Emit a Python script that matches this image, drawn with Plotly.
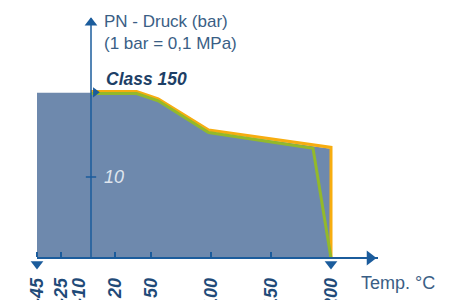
import plotly.graph_objects as go

# --- data ---
temp_ticks = [-45, -25, -10, 20, 50, 100, 150, 200]
tick_labels = ["-45", "-25", "-10", "20", "50", "100", "150", "200"]
tick_marks = [-45, -25, 20, 50, 100, 150]

# area (fill) outline
area_t = [-45, -45, 0, 38, 56, 98, 200, 200]
area_p = [0, 20.4, 20.4, 20.4, 19.5, 15.6, 13.5, 0]

# orange curve
orange_t = [0, 38, 56, 98, 200, 200]
orange_p = [20.55, 20.55, 19.65, 15.8, 13.65, 0]

# green curve (Class 150)
green_t = [0, 38, 56, 98, 185, 200]
green_p = [20.3, 20.3, 19.4, 15.5, 13.55, 0]

y_ticks = [10]

AXIS = "#1b5c9c"
FILL = "#6e89ad"
TXT = "#3a5e85"
NAVY = "#1d3f66"
FONT = "Liberation Sans, Arial, sans-serif"

PH = 254.0  # plot height in px (paper y fraction helper)
PW = 341.0


def py(pix):
    return (271 - pix) / PH


def px(pix):
    return (pix - 37) / PW


fig = go.Figure()
fig.add_trace(go.Scatter(x=area_t, y=area_p, fill="toself", fillcolor=FILL,
                         mode="none", hoverinfo="skip", showlegend=False))
fig.add_trace(go.Scatter(x=orange_t, y=orange_p, mode="lines",
                         line=dict(color="#f7ad10", width=3), showlegend=False,
                         cliponaxis=False))
fig.add_trace(go.Scatter(x=green_t, y=green_p, mode="lines",
                         line=dict(color="#93b92a", width=3), showlegend=False,
                         cliponaxis=False))

# y axis line (at 0 °C) and its tick
fig.add_shape(type="line", x0=0, x1=0, y0=0, y1=29.6, xref="x", yref="y",
              line=dict(color=AXIS, width=1.5))
fig.add_shape(type="line", x0=-4.3, x1=4.3, y0=10, y1=10, xref="x", yref="y",
              line=dict(color=AXIS, width=1.5))

# arrow heads
fig.add_trace(go.Scatter(x=[0], y=[29.05], mode="markers",
                         marker=dict(symbol="triangle-up", size=11, color=AXIS),
                         showlegend=False, cliponaxis=False, hoverinfo="skip"))
fig.add_trace(go.Scatter(x=[232.5], y=[0], mode="markers",
                         marker=dict(symbol="triangle-right", size=13, color=AXIS),
                         showlegend=False, cliponaxis=False, hoverinfo="skip"))
fig.add_trace(go.Scatter(x=[-45, 200], y=[-0.75, -0.75], mode="markers",
                         marker=dict(symbol="triangle-down", size=11, color=AXIS),
                         showlegend=False, cliponaxis=False, hoverinfo="skip"))
fig.add_trace(go.Scatter(x=[3.6], y=[20.45], mode="markers",
                         marker=dict(symbol="triangle-right", size=9, color=AXIS),
                         showlegend=False, cliponaxis=False, hoverinfo="skip"))

fig.update_layout(
    width=455, height=300,
    margin=dict(l=37, r=77, t=17, b=29),
    paper_bgcolor="white", plot_bgcolor="white",
    showlegend=False,
    xaxis=dict(range=[-45, 239.17], tickvals=temp_ticks, ticktext=tick_labels,
               anchor="free", position=py(258),
               tickangle=-90, ticks="", showgrid=False, zeroline=False,
               showline=True, linecolor=AXIS, linewidth=1.5,
               ticklabelstandoff=12, automargin=False,
               ticklabeloverflow="allow",
               tickfont=dict(family=FONT, size=18, color="#1f4a78", weight="bold",
                             style="italic"),
               minor=dict(tickvals=tick_marks, ticks="inside", ticklen=5,
                          tickcolor=AXIS, tickwidth=1.5)),
    yaxis=dict(range=[-13 / 8.1, 29.75], tickvals=y_ticks, ticktext=["10"],
               anchor="free", position=px(91), side="right",
               ticks="", showgrid=False,
               zeroline=False, showline=False, automargin=False,
               ticklabelstandoff=12,
               tickfont=dict(family=FONT, size=18, color="#dfe5ee", style="italic")),
    annotations=[
        dict(text="PN - Druck (bar)<br>(1 bar = 0,1 MPa)", xref="paper", yref="paper",
             x=px(102), y=py(10), xanchor="left", yanchor="top",
             align="left", showarrow=False,
             font=dict(family=FONT, size=17, color=TXT)),
        dict(text="<b><i>Class 150</i></b>", xref="paper", yref="paper",
             x=px(104), y=py(79), xanchor="left", yanchor="middle",
             showarrow=False, font=dict(family=FONT, size=17.5, color=NAVY)),
        dict(text="Temp. °C", xref="paper", yref="paper",
             x=px(359), y=py(283), xanchor="left", yanchor="middle",
             showarrow=False, font=dict(family=FONT, size=18, color=TXT)),
    ],
)

fig.write_html("out.html", config={"displayModeBar": False},
               post_script="document.body.style.margin='0';")
